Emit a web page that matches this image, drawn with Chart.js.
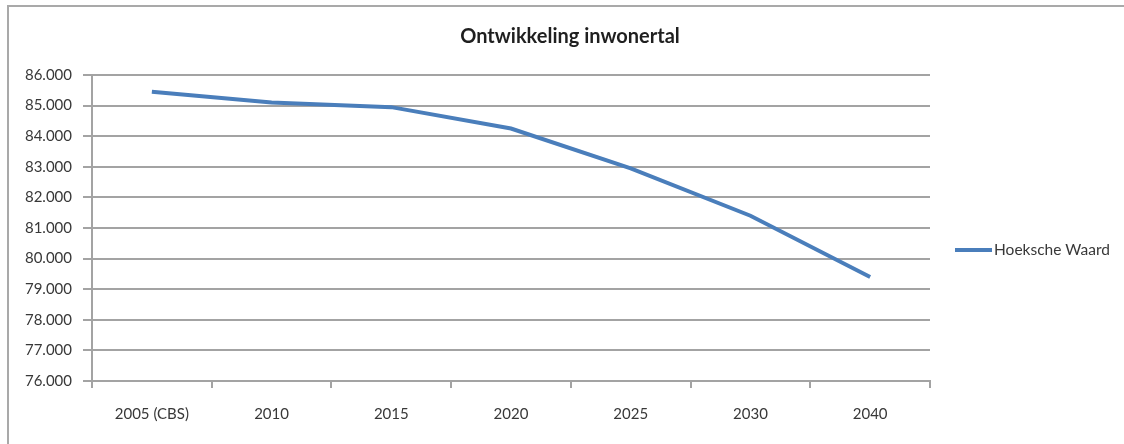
<!DOCTYPE html>
<html>
<head>
<meta charset="utf-8">
<script src="https://cdn.jsdelivr.net/npm/chart.js@4/dist/chart.umd.min.js"></script>
<style>
  html, body { margin: 0; padding: 0; background: #fff; overflow: hidden; }
  #wrap { position: relative; width: 1124px; height: 444px; }
  #frame {
    position: absolute; left: 7px; top: 5px; right: -10px; bottom: -10px;
    border: 2px solid #a9a9a9; pointer-events: none;
  }
</style>
</head>
<body>
<div id="wrap">
  <canvas id="inwonersChart" width="1124" height="444"></canvas>
  <div id="frame"></div>
</div>
<script>
// Jaren en inwonertal Hoeksche Waard
const jaren = ['2005 (CBS)', '2010', '2015', '2020', '2025', '2030', '2040'];
const inwoners = [85450, 85100, 84950, 84250, 82950, 81400, 79400];
const reeksNaam = 'Hoeksche Waard';
const titel = 'Ontwikkeling inwonertal';
const yMin = 76000;
const yMax = 86000;
const yStap = 1000;

const lijnKleur = '#4a7ebb';
const rasterKleur = '#a3a3a3';
const tekstKleur = '#383838';
const lettertype = 'Lato, "Liberation Sans", sans-serif';

function formatNL(v) {
    return String(v).replace(/\B(?=(\d{3})+(?!\d))/g, '.');
}

// titel boven het midden van het hele kader, legenda rechts naast de grafiek
const titelEnLegenda = {
    id: 'titelEnLegenda',
    afterDraw(chart) {
        const ctx = chart.ctx;
        const ds = chart.data.datasets[0];
        ctx.save();
        ctx.fillStyle = '#1f1f1f';
        ctx.font = 'bold 20px ' + lettertype;
        ctx.textAlign = 'center';
        ctx.textBaseline = 'middle';
        ctx.fillText(titel, 570, 37);

        const y = 250;
        ctx.strokeStyle = ds.borderColor;
        ctx.lineWidth = 4;
        ctx.beginPath();
        ctx.moveTo(955, y);
        ctx.lineTo(992, y);
        ctx.stroke();
        ctx.fillStyle = tekstKleur;
        ctx.font = '15.5px ' + lettertype;
        ctx.textAlign = 'left';
        ctx.fillText(ds.label, 994, y);
        ctx.restore();
    }
};

const ctx = document.getElementById('inwonersChart').getContext('2d');
new Chart(ctx, {
    type: 'line',
    data: {
        labels: jaren,
        datasets: [{
            label: reeksNaam,
            data: inwoners,
            borderColor: lijnKleur,
            backgroundColor: lijnKleur,
            borderWidth: 4,
            pointRadius: 0,
            tension: 0,
            fill: false
        }]
    },
    options: {
        responsive: false,
        animation: false,
        devicePixelRatio: 1,
        layout: {
            padding: { left: 0, right: 194, top: 75, bottom: 0 }
        },
        scales: {
            x: {
                offset: true,
                afterFit(scale) { scale.height = 63; },
                grid: {
                    offset: true,
                    drawOnChartArea: false,
                    drawTicks: true,
                    tickLength: 7,
                    color: rasterKleur,
                    lineWidth: 2
                },
                border: { color: rasterKleur, width: 2 },
                ticks: {
                    color: tekstKleur,
                    padding: 17,
                    maxRotation: 0,
                    font: { family: lettertype, size: 15 }
                }
            },
            y: {
                min: yMin,
                max: yMax,
                afterFit(scale) { scale.width = 92; },
                grid: {
                    color: rasterKleur,
                    lineWidth: 2,
                    tickLength: 9
                },
                border: { color: rasterKleur, width: 2 },
                ticks: {
                    stepSize: yStap,
                    color: tekstKleur,
                    padding: 11,
                    font: { family: lettertype, size: 15 },
                    callback: (v) => formatNL(v)
                }
            }
        },
        plugins: {
            legend: { display: false },
            tooltip: { enabled: false },
            title: { display: false }
        }
    },
    plugins: [titelEnLegenda]
});
</script>
</body>
</html>
